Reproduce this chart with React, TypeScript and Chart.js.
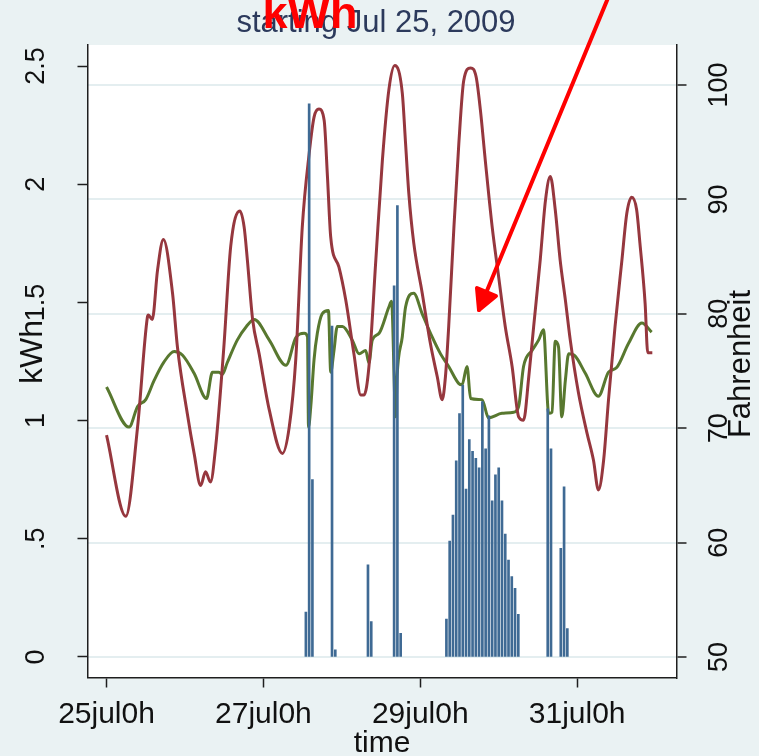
import React, { useEffect, useRef } from 'react';
import { Chart, registerables } from 'chart.js';

Chart.register(...registerables);

const W = 759;
const H = 756;
const BG = '#eaf2f3';
const AXIS = '#1e1e1e';
const FONT = '"Liberation Sans", Arial, Helvetica, sans-serif';

// ---- tick definitions ----
const xTickHours = [0, 48, 96, 144];
const xTickLabels = ['25jul0h', '27jul0h', '29jul0h', '31jul0h'];
const kwhTicks = [0, 0.5, 1, 1.5, 2, 2.5];
const kwhTickLabels = ['0', '.5', '1', '1.5', '2', '2.5'];
const fTicks = [50, 60, 70, 80, 90, 100];
const fTickLabels = ['50', '60', '70', '80', '90', '100'];

// ---- electricity use (kWh), hours since 25 Jul 0h ----
const usageHours = [61, 62, 63, 69, 70, 80, 81, 88, 89, 90,
  104, 105, 106, 107, 108, 109, 110, 111, 112, 113, 114, 115, 116, 117, 118, 119, 120, 121, 122, 123, 124, 125, 126,
  135, 136, 139, 140, 141];
const usageKwh = [0.19, 2.34, 0.75, 1.40, 0.03, 0.39, 0.15, 1.57, 1.91, 0.10,
  0.16, 0.49, 0.60, 0.83, 1.03, 1.15, 0.71, 0.92, 0.87, 0.84, 0.80, 1.08, 0.88, 1.02, 0.66, 0.77, 0.80, 0.66, 0.52, 0.41, 0.34, 0.29, 0.18,
  1.05, 0.88, 0.46, 0.72, 0.12];

// ---- outdoor temperature (F) ----
const outdoorHours = [0, 5.9, 9.5, 12.5, 12.8, 14.0, 15.6, 17.4, 20.2, 21.7, 24.7, 26.8, 28.8, 30.3, 31.8, 33.4, 35.9, 38.0, 40.8,
  42.1, 43.1, 44.7, 46.7, 49.8, 53.8, 55.9, 57.9, 59.9, 62.0, 63.5, 65.0, 66.6, 67.6, 68.6, 71.1, 73.2, 75.7, 77.8, 78.8, 80.3,
  82.4, 84.4, 86.4, 88.2, 90.5, 91.5, 92.5, 94.0, 96.6, 99.1, 101.2, 102.7, 103.7, 104.7, 106.3, 107.8, 109.3, 111.4, 113.1,
  114.4, 115.9, 118.0, 120.0, 122.0, 124.1, 126.1, 127.6, 129.2, 130.7, 132.7, 134.3, 135.8, 137.3, 138.8, 140.4, 141.9, 144.4,
  147.0, 149.0, 150.5, 152.1, 153.6, 155.6, 157.7, 159.2, 160.7, 162.2, 163.2, 164.8, 165.6, 167.0];
const outdoorTemp = [69.4, 62.3, 70.1, 79.7, 79.9, 79.5, 83.8, 86.5, 81.8, 77.1, 71.3, 67.8, 65.0, 66.2, 65.3, 68.4, 77.1, 85.9, 89.0,
  87.6, 84.7, 79.5, 76.5, 71.6, 67.8, 70.1, 76.0, 87.6, 94.0, 97.2, 97.9, 96.9, 92.0, 86.7, 84.1, 81.2, 76.5, 72.9, 72.9, 75.4,
  84.7, 93.4, 99.6, 101.7, 99.3, 94.9, 90.5, 86.2, 81.8, 77.4, 74.5, 72.5, 74.5, 78.9, 87.6, 94.9, 100.4, 101.5, 100.7,
  97.8, 93.4, 87.6, 83.2, 78.9, 75.4, 71.0, 70.7, 74.5, 78.9, 84.7, 89.9, 92.0, 89.1, 84.7, 81.2, 77.7, 73.1,
  69.6, 67.2, 64.6, 67.2, 72.5, 78.9, 84.7, 88.8, 90.2, 89.1, 86.2, 80.9, 76.6, 76.6];

// ---- indoor temperature (F) ----
const indoorHours = [0, 6.9, 9.5, 12.0, 14.6, 17.6, 20.7, 23.2, 26.8, 30.6, 32.4, 34.4, 35.4, 36.9, 40.0, 42.8, 45.2, 49.8, 54.9,
  57.9, 60.5, 61.5, 61.8, 62.5, 63.5, 64.5, 66.0, 67.9, 68.6, 69.6, 70.6, 72.2, 75.2, 77.3, 79.3, 80.3, 81.3, 83.4, 86.4, 87.2,
  88.5, 88.9, 90.5, 91.5, 94.0, 96.6, 99.6, 102.2, 104.7, 107.8, 108.8, 110.3, 111.4, 114.9, 116.9, 121.0, 124.6, 126.1, 127.6,
  130.2, 132.2, 133.7, 135.3, 136.3, 137.3, 138.3, 139.3, 140.4, 141.4, 143.4, 146.5, 150.5, 153.6, 156.1, 159.7, 163.8, 166.8];
const indoorTemp = [73.6, 70.1, 71.9, 72.5, 74.2, 75.8, 76.7, 76.4, 74.8, 72.6, 74.9, 74.9, 74.7, 75.7, 77.7, 78.9, 79.5, 77.7, 75.5,
  77.9, 78.3, 78.0, 70.1, 71.9, 76.0, 78.3, 80.0, 80.3, 74.9, 76.8, 78.9, 78.9, 77.7, 76.5, 76.8, 75.7, 77.7, 78.3, 80.6, 81.1,
  71.0, 74.5, 78.0, 80.6, 81.8, 80.0, 78.0, 76.5, 75.4, 73.9, 73.8, 75.4, 72.6, 72.5, 70.9, 71.3, 71.4, 71.9, 75.4,
  76.8, 77.7, 78.6, 71.3, 71.4, 77.6, 77.1, 71.0, 74.2, 76.5, 76.3, 74.8, 72.8, 74.9, 75.3, 77.4, 79.2, 78.4];

// ---- axis ranges ----
const X_MIN = -5.82;
const X_MAX = 174.4;
const KWH_MIN = -0.087;
const KWH_MAX = 2.589;
const F_MIN = 48.21;
const F_MAX = 103.5;

const zip = (xs: number[], ys: number[]) => xs.map((x, i) => ({ x, y: ys[i] }));

const decor = {
  id: 'decor',
  beforeDraw(chart: any) {
    const { ctx, chartArea: a } = chart;
    ctx.save();
    ctx.fillStyle = BG;
    ctx.fillRect(0, 0, W, H);
    ctx.fillStyle = '#ffffff';
    ctx.fillRect(a.left, a.top, a.right - a.left, a.bottom - a.top);
    ctx.restore();
  },
  afterDraw(chart: any) {
    const ctx = chart.ctx as CanvasRenderingContext2D;
    const sx = chart.scales.x;
    const sy = chart.scales.y;
    const sy1 = chart.scales.y1;
    const a = chart.chartArea;
    ctx.save();
    ctx.fillStyle = '#111111';
    ctx.textBaseline = 'alphabetic';

    // left tick labels (rotated)
    ctx.font = `27px ${FONT}`;
    ctx.textAlign = 'center';
    kwhTicks.forEach((v, i) => {
      const y = sy.getPixelForValue(v);
      ctx.save();
      ctx.translate(43.5, y);
      ctx.rotate(-Math.PI / 2);
      ctx.fillText(kwhTickLabels[i], 0, 0);
      ctx.restore();
    });
    // right tick labels (rotated)
    fTicks.forEach((v, i) => {
      const y = sy1.getPixelForValue(v);
      ctx.save();
      ctx.translate(726.5, y);
      ctx.rotate(-Math.PI / 2);
      ctx.fillText(fTickLabels[i], 0, 0);
      ctx.restore();
    });
    // axis titles
    ctx.font = `32px ${FONT}`;
    ctx.save();
    ctx.translate(42, 352);
    ctx.rotate(-Math.PI / 2);
    ctx.fillText('kWh', 0, 0);
    ctx.restore();
    ctx.font = `31px ${FONT}`;
    ctx.save();
    ctx.translate(749.5, 364);
    ctx.rotate(-Math.PI / 2);
    ctx.fillText('Fahrenheit', 0, 0);
    ctx.restore();

    // x tick labels
    ctx.font = `30px ${FONT}`;
    xTickHours.forEach((v, i) => {
      ctx.fillText(xTickLabels[i], sx.getPixelForValue(v), 723);
    });
    ctx.fillText('time', (a.left + a.right) / 2, 752);

    // subtitle
    ctx.fillStyle = '#2c3a5c';
    ctx.font = `31px ${FONT}`;
    ctx.fillText('starting Jul 25, 2009', 376, 32);

    // red annotation
    ctx.fillStyle = '#ff0000';
    ctx.font = `bold 45px ${FONT}`;
    ctx.fillText('kWh', 310, 28);

    ctx.strokeStyle = '#ff0000';
    ctx.lineWidth = 4;
    ctx.lineCap = 'round';
    ctx.lineJoin = 'round';
    ctx.beginPath();
    ctx.moveTo(608, -2);
    ctx.lineTo(479, 310);
    ctx.stroke();
    ctx.beginPath();
    ctx.moveTo(477, 288);
    ctx.lineTo(479, 310);
    ctx.lineTo(496, 296);
    ctx.closePath();
    ctx.fill();
    ctx.stroke();
    ctx.restore();
  },
};

export default function App() {
  const ref = useRef<HTMLCanvasElement>(null);
  useEffect(() => {
    document.body.style.margin = '0';
    const canvas = ref.current!;
    const chart = new Chart(canvas, {
      type: 'line',
      data: {
        datasets: [
          {
            type: 'bar',
            label: 'kWh',
            data: zip(usageHours, usageKwh),
            yAxisID: 'y',
            backgroundColor: '#3f6a94',
            borderWidth: 0,
            barThickness: 2,
            order: 0,
          } as any,
          {
            type: 'line',
            label: 'outdoor',
            data: zip(outdoorHours, outdoorTemp),
            yAxisID: 'y1',
            borderColor: '#96373e',
            borderWidth: 3,
            pointRadius: 0,
            cubicInterpolationMode: 'monotone',
            fill: false,
            order: 1,
          },
          {
            type: 'line',
            label: 'indoor',
            data: zip(indoorHours, indoorTemp),
            yAxisID: 'y1',
            borderColor: '#58782f',
            borderWidth: 3,
            pointRadius: 0,
            cubicInterpolationMode: 'monotone',
            fill: false,
            order: 2,
          },
        ],
      },
      options: {
        responsive: false,
        animation: false,
        devicePixelRatio: 1,
        layout: { padding: { top: 45, left: 0, right: 0, bottom: 0 } },
        plugins: { legend: { display: false }, tooltip: { enabled: false }, title: { display: false } },
        events: [],
        scales: {
          x: {
            type: 'linear',
            position: 'bottom',
            min: X_MIN,
            max: X_MAX,
            offset: false,
            afterBuildTicks: (s: any) => { s.ticks = xTickHours.map((v) => ({ value: v })); },
            afterFit: (s: any) => { s.height = H - 677.5; },
            ticks: { display: false },
            grid: { offset: false, drawOnChartArea: false, drawTicks: true, tickLength: 10, tickColor: AXIS, tickWidth: 1.5 },
            border: { display: true, color: AXIS, width: 1.5 },
          },
          y: {
            type: 'linear',
            position: 'left',
            min: KWH_MIN,
            max: KWH_MAX,
            afterBuildTicks: (s: any) => { s.ticks = kwhTicks.map((v) => ({ value: v })); },
            afterFit: (s: any) => { s.width = 87.5; },
            ticks: { display: false },
            grid: { offset: false, drawOnChartArea: false, drawTicks: true, tickLength: 10, tickColor: AXIS, tickWidth: 1.5 },
            border: { display: true, color: AXIS, width: 1.5 },
          },
          y1: {
            type: 'linear',
            position: 'right',
            min: F_MIN,
            max: F_MAX,
            afterBuildTicks: (s: any) => { s.ticks = fTicks.map((v) => ({ value: v })); },
            afterFit: (s: any) => { s.width = W - 676.5; },
            ticks: { display: false },
            grid: { offset: false, drawOnChartArea: true, color: '#e4eef0', lineWidth: 2, drawTicks: true, tickLength: 10, tickColor: AXIS, tickWidth: 1.5 },
            border: { display: true, color: AXIS, width: 1.5 },
          },
        },
      } as any,
      plugins: [decor],
    });
    return () => chart.destroy();
  }, []);
  return (
    <div style={{ width: W, height: H, background: BG, position: 'relative', overflow: 'hidden' }}>
      <canvas ref={ref} width={W} height={H} style={{ display: 'block', width: W, height: H }} />
    </div>
  );
}
